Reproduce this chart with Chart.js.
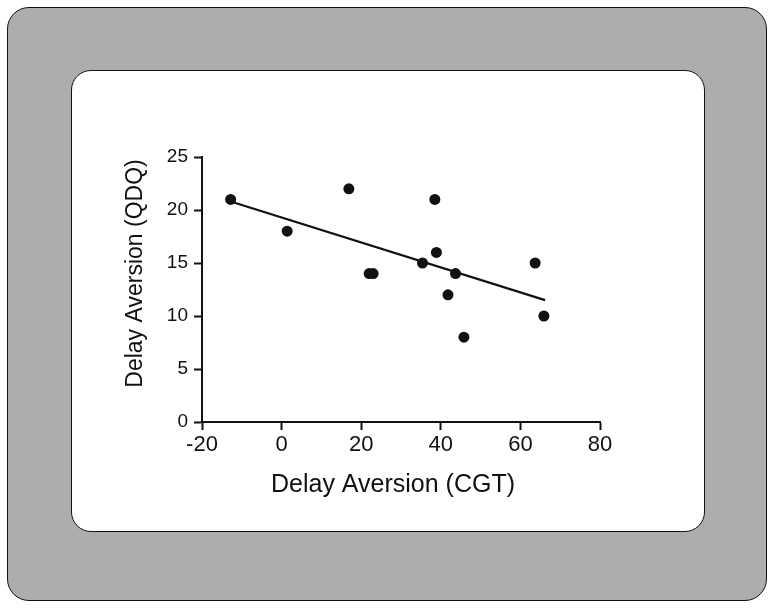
<!DOCTYPE html>
<html>
<head>
<meta charset="utf-8">
<script src="https://cdn.jsdelivr.net/npm/chart.js@4.4.0/dist/chart.umd.min.js"></script>
<style>
  html, body { margin:0; padding:0; background:#ffffff; }
  #wrap { position:relative; width:777px; height:611px; overflow:hidden; }
  #outer { position:absolute; left:7px; top:7px; width:758px; height:592px; background:#adadad; border:1.5px solid #111; border-radius:22px; }
  #inner { position:absolute; left:71px; top:70px; width:632px; height:460px; background:#ffffff; border:1.5px solid #111; border-radius:20px; }
  #c { position:absolute; left:0; top:0; }
</style>
</head>
<body>
<div id="wrap">
  <div id="outer"></div>
  <div id="inner"></div>
  <canvas id="c" width="777" height="611"></canvas>
</div>
<script>
// Data
const cgtValues = [-12.8, 1.4, 16.9, 22.0, 23.0, 35.4, 38.5, 38.9, 43.7, 41.8, 45.8, 63.7, 65.9];
const qdqValues = [21, 18, 22, 14, 14, 15, 21, 16, 14, 12, 8, 15, 10];
const fitLineX = [-12.8, 66.2];
const fitLineY = [20.8, 11.5];
const xTicks = [-20, 0, 20, 40, 60, 80];
const yTicks = [0, 5, 10, 15, 20, 25];
const xTitle = 'Delay Aversion (CGT)';
const yTitle = 'Delay Aversion (QDQ)';

const points = cgtValues.map((x, i) => ({ x: x, y: qdqValues[i] }));
const fitPoints = fitLineX.map((x, i) => ({ x: x, y: fitLineY[i] }));

const FONT = "'Liberation Sans', Arial, sans-serif";
const INK = '#111111';

// Axis titles drawn as canvas text at the reference positions
const axisTitles = {
  id: 'axisTitles',
  afterDraw(chart) {
    const ctx = chart.ctx;
    const xs = chart.scales.x, ys = chart.scales.y;
    ctx.save();
    ctx.fillStyle = INK;
    ctx.textAlign = 'center';
    ctx.textBaseline = 'middle';
    ctx.font = "25px " + FONT;
    ctx.fillText(xTitle, (xs.left + xs.right) / 2 - 8, xs.top + 63);
    ctx.translate(ys.right - 66, (ys.top + ys.bottom) / 2 - 16);
    ctx.rotate(-Math.PI / 2);
    ctx.font = "23px " + FONT;
    ctx.fillText(yTitle, 0, 0);
    ctx.restore();
  }
};

new Chart(document.getElementById('c'), {
  type: 'scatter',
  data: {
    datasets: [
      {
        type: 'line',
        data: fitPoints,
        borderColor: INK,
        borderWidth: 2.2,
        pointRadius: 0,
        fill: false,
        tension: 0
      },
      {
        data: points,
        backgroundColor: INK,
        borderColor: INK,
        pointRadius: 5.5,
        pointHoverRadius: 5.5,
        borderWidth: 0
      }
    ]
  },
  plugins: [axisTitles],
  options: {
    responsive: false,
    animation: false,
    events: [],
    layout: { padding: { left: 112, right: 177, top: 157, bottom: 108 } },
    plugins: { legend: { display: false }, tooltip: { enabled: false } },
    scales: {
      x: {
        type: 'linear',
        min: xTicks[0],
        max: xTicks[xTicks.length - 1],
        afterBuildTicks: (s) => { s.ticks = xTicks.map(v => ({ value: v })); },
        afterFit: (s) => { s.height = 81; },
        border: { display: true, color: INK, width: 2 },
        grid: { drawOnChartArea: false, drawTicks: true, tickLength: 8, tickColor: INK, tickWidth: 2 },
        ticks: { color: INK, font: { family: FONT, size: 22 }, padding: 2 }
      },
      y: {
        type: 'linear',
        min: yTicks[0],
        max: yTicks[yTicks.length - 1],
        afterBuildTicks: (s) => { s.ticks = yTicks.map(v => ({ value: v })); },
        afterFit: (s) => { s.width = 90; },
        border: { display: true, color: INK, width: 2 },
        grid: { drawOnChartArea: false, drawTicks: true, tickLength: 8, tickColor: INK, tickWidth: 2 },
        ticks: { color: INK, font: { family: FONT, size: 19 }, padding: 6 }
      }
    }
  }
});
</script>
</body>
</html>
